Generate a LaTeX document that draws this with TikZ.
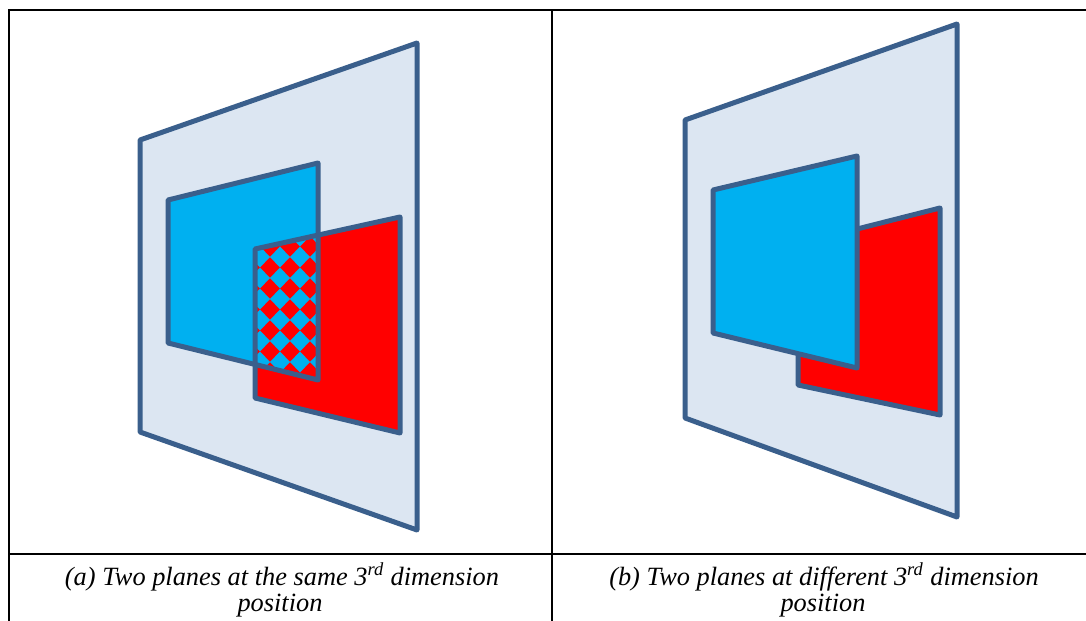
\documentclass[tikz,border=0pt]{standalone}
\usepackage{fontspec}
\setmainfont{Liberation Serif}
\definecolor{frame}{HTML}{3A5F8C}
\definecolor{sheet}{HTML}{DCE6F2}
\definecolor{skyblue}{HTML}{00B0F0}
\definecolor{hotred}{HTML}{FF0000}
\usetikzlibrary{calc}
\tikzset{
  plane/.style={draw=frame, line width=0.1cm, line join=round},
  rule/.style={black, line width=0.04cm},
  caption/.style={font=\fontsize{15}{17}\selectfont\itshape, inner sep=0pt, anchor=base},
}

\begin{document}
\begin{tikzpicture}[x=0.02cm,y=-0.02cm]
        \useasboundingbox (0,0) rectangle (1086,621);
        % table
        \draw[rule] (1086,10)--(9,10)--(9,621);
        \draw[rule] (552,10)--(552,621);
        \draw[rule] (9,554)--(1086,554);
        % (a) same depth
        \draw[plane,fill=sheet] (140,140)--(417,43)--(417,530)--(140,432)--cycle;
        \coordinate (ba) at (168,200); \coordinate (bb) at (318,163);
        \coordinate (bc) at (318,380); \coordinate (bd) at (168,343);
        \coordinate (ra) at (255,249); \coordinate (rb) at (400,217);
        \coordinate (rc) at (400,433); \coordinate (rd) at (255,398);
        \fill[skyblue] (ba)--(bb)--(bc)--(bd)--cycle;
        \fill[hotred] (ra)--(rb)--(rc)--(rd)--cycle;
        \begin{scope}
          \clip (ra)--(intersection of ra--rb and bb--bc)--(bc)--(intersection of bd--bc and ra--rd)--cycle;
          \fill[hotred] (250,220) rectangle (325,390);
          \foreach \x in {240,260,...,340} \foreach \y in {215,236,...,400}
            \fill[skyblue] (\x-10,\y)--(\x,\y-10.5)--(\x+10,\y)--(\x,\y+10.5)--cycle;
        \end{scope}
        \draw[plane] (ba)--(bb)--(bc)--(bd)--cycle;
        \draw[plane] (ra)--(rb)--(rc)--(rd)--cycle;
        % (b) different depth
        \draw[plane,fill=sheet] (685,120)--(957,24)--(957,517)--(685,418)--cycle;
        \draw[plane,fill=hotred] (798,244)--(940,208)--(940,415)--(798,385)--cycle;
        \draw[plane,fill=skyblue] (713,190)--(857,156)--(857,368)--(713,333)--cycle;
        % captions
        \node[caption] (capa) at (282,585) {(a) Two planes at the same 3\textsuperscript{rd} dimension};
        \node[caption] (capa2) at (280,612) {position};
        \node[caption] (capb) at (824,585) {(b) Two planes at different 3\textsuperscript{rd} dimension};
        \node[caption] (capb2) at (823,612) {position};
      \end{tikzpicture}
\end{document}
